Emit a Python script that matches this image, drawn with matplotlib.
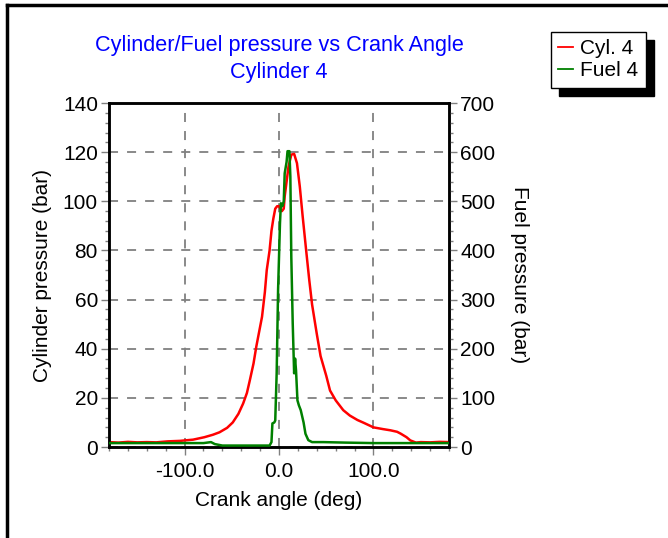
import matplotlib
matplotlib.use("Agg")
import matplotlib.pyplot as plt
from matplotlib.patches import Rectangle
from matplotlib.lines import Line2D
from matplotlib.ticker import MultipleLocator, FormatStrFormatter

plt.rcParams['font.family'] = ['Liberation Sans', 'DejaVu Sans']
FS = 15

# Cylinder pressure (bar) vs crank angle (deg)
cyl_angle = [-180, -170, -160, -150, -140, -130, -118, -105, -91, -79, -70, -63, -55, -49,
             -43, -38, -34, -31, -27, -24, -21, -18, -15, -13, -10, -8, -6, -4, -2, 0, 3, 5,
             6, 8, 10, 13, 16, 19, 22, 25, 29, 32, 35, 40, 44, 50, 54, 60, 68, 75, 83, 90,
             100, 110, 118, 125, 129, 135, 139, 145, 150, 160, 170, 180]
cyl_p = [2.0, 1.8, 2.1, 1.9, 2.0, 1.9, 2.3, 2.5, 3.0, 4.0, 5.0, 6.0, 7.8, 10.0,
         13.5, 17.7, 22.0, 27.0, 34.0, 41.0, 47.0, 53.0, 63.0, 72.0, 80.0, 88.0, 93.0, 97.0,
         98.0, 98.0, 96.0, 97.0, 102.0, 108.0, 114.0, 119.0, 119.3, 115.5, 106.0, 94.0,
         79.0, 68.0, 58.0, 46.0, 37.0, 29.0, 23.0, 19.0, 15.0, 12.8, 11.0, 9.8, 8.0, 7.3,
         6.8, 6.2, 5.4, 4.0, 2.7, 1.8, 2.0, 1.9, 2.1, 2.0]

# Fuel pressure (bar) vs crank angle (deg)
fuel_angle = [-180, -150, -120, -100, -80, -72, -68, -60, -40, -20, -10, -8, -7, -5, -4,
              -2.5, -1, 1, 2, 3.5, 5, 6, 8, 9, 11, 12, 13, 14.5, 16, 17, 18, 19.5, 21, 23,
              26, 28, 31, 35, 47, 70, 100, 130, 160, 180]
fuel_p = [8, 8, 8, 8, 8, 10, 6, 3, 3, 3, 3, 10, 48, 50, 54,
          150, 320, 455, 496, 490, 500, 557, 580, 602, 602, 550, 387, 252, 150, 180, 156,
          95, 85, 75, 50, 27, 14, 10, 10, 9, 8, 8, 8, 8]

fig = plt.figure(figsize=(6.68, 5.38), dpi=100)
ax = fig.add_axes([0.1632, 0.1691, 0.509, 0.6394])
ax2 = ax.twinx()

ax.plot(cyl_angle, cyl_p, color='#ff0000', lw=1.8, zorder=3)
ax2.plot(fuel_angle, fuel_p, color='#008000', lw=1.8, zorder=4)

ax.set_xlim(-180, 180)
ax.set_ylim(0, 140)
ax2.set_ylim(0, 700)
ax.xaxis.set_major_locator(MultipleLocator(100))
ax.xaxis.set_minor_locator(MultipleLocator(20))
ax.xaxis.set_major_formatter(FormatStrFormatter('%.1f'))
ax.yaxis.set_major_locator(MultipleLocator(20))
ax.yaxis.set_minor_locator(MultipleLocator(4))
ax2.yaxis.set_major_locator(MultipleLocator(100))
ax2.yaxis.set_minor_locator(MultipleLocator(20))

ax.grid(True, which='major', color='#808080', linestyle=(0, (5, 5)), lw=1.3)
for a in (ax, ax2):
    a.tick_params(which='major', direction='out', length=6, color='#808080', width=1,
                  labelsize=FS, pad=2)
    a.tick_params(which='minor', direction='out', length=3, color='#808080', width=1)
    for s in a.spines.values():
        s.set_linewidth(1.8)
        s.set_color('black')
ax.tick_params(axis='x', which='major', pad=5)

ax.set_xlabel('Crank angle (deg)', fontsize=FS, labelpad=7)
ax.set_ylabel('Cylinder pressure (bar)', fontsize=FS, labelpad=8)
ax2.set_ylabel('Fuel pressure (bar)', fontsize=FS, rotation=-90, labelpad=24)

fig.text(0.418, 0.916, 'Cylinder/Fuel pressure vs Crank Angle', color='#0000ff',
         ha='center', va='center', fontsize=15.6)
fig.text(0.418, 0.866, 'Cylinder 4', color='#0000ff', ha='center', va='center', fontsize=15.6)

# figure border (top and left)
fig.add_artist(Line2D([0.010, 0.010], [0.0, 0.991], color='black', lw=2.5, transform=fig.transFigure))
fig.add_artist(Line2D([0.010, 1.0], [0.991, 0.991], color='black', lw=2.5, transform=fig.transFigure))

handles = [Line2D([], [], color='#ff0000', lw=1.3), Line2D([], [], color='#008000', lw=1.3)]
leg = fig.legend(handles, ['Cyl. 4', 'Fuel 4'], loc='upper left',
                 bbox_to_anchor=(551 / 668, 1 - 32 / 538), fancybox=False,
                 edgecolor='black', framealpha=1, handlelength=0.7, handletextpad=0.35,
                 borderpad=0.35, labelspacing=0.15, borderaxespad=0, fontsize=FS)
leg.get_frame().set_linewidth(1.0)
leg.set_zorder(10)

fig.canvas.draw()
bb = leg.get_window_extent().transformed(fig.transFigure.inverted())
fig.add_artist(Rectangle((bb.x0 + 8 / 668, bb.y0 - 8 / 538), bb.width, bb.height,
                         transform=fig.transFigure, color='black', zorder=9))

fig.savefig('out.png', dpi=100)
